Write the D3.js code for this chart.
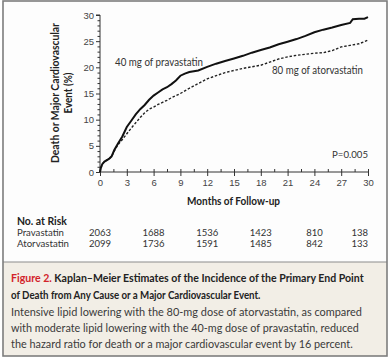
<!DOCTYPE html>
<html><head><meta charset="utf-8">
<script src="https://cdn.jsdelivr.net/npm/d3@7/dist/d3.min.js"></script>
<style>
html,body{margin:0;padding:0;background:#fff;}
svg{display:block;font-family:Lato,"Noto Sans",sans-serif;}
</style></head>
<body>
<svg id="c" width="391" height="360"></svg>
<script>
// ---- data ----
const pravMonths = [0,0.1,0.25,0.5,1.0,1.3,1.6,2.0,2.5,3.0,3.5,4.0,4.5,5.0,5.5,6.0,6.5,7.0,7.5,8.0,8.5,9.0,9.5,10,11,12,13,14,15,16,17,18,19,20,21,22,23,24,25,26,27,28,28.3,29,29.6,30];
const pravValues = [0,0.8,1.5,2.0,2.5,3.0,4.2,5.4,6.8,8.6,9.8,11.0,12.0,12.8,13.8,14.6,15.2,15.8,16.2,16.8,17.5,18.4,18.8,19.1,19.4,20.1,20.7,21.2,21.7,22.2,22.8,23.3,23.8,24.4,24.9,25.4,26.0,26.7,27.2,27.6,28.1,28.5,29.2,29.3,29.3,29.6];
const atorMonths = [0,0.1,0.25,0.5,1.0,1.3,1.6,2.0,2.5,3.0,3.5,4.0,4.5,5.0,5.5,6.0,6.5,7.0,7.5,8.0,8.5,9.0,9.5,10,11,12,13,14,15,16,17,18,19,20,21,22,23,24,25,26,27,28,29,30];
const atorValues = [0,0.8,1.5,2.0,2.5,3.0,4.0,5.2,6.2,7.3,8.4,9.4,10.4,11.3,12.0,12.4,12.9,13.3,13.7,14.2,14.6,15.0,15.5,16.0,16.9,17.8,18.4,19.0,19.4,19.8,20.1,20.4,21.0,21.6,22.0,22.3,22.5,22.7,22.8,23.2,23.9,24.2,24.5,25.2];
const xTicks = [0,3,6,9,12,15,18,21,24,27,30];
const yTicks = [0,5,10,15,20,25,30];
const riskMonths = [0,6,12,18,24,30];
const pravRisk = [2063,1688,1536,1423,810,138];
const atorRisk = [2099,1736,1591,1485,842,133];
const captionTitle = ["Kaplan–Meier Estimates of the Incidence of the Primary End Point","of Death from Any Cause or a Major Cardiovascular Event."];
const captionBody = ["Intensive lipid lowering with the 80-mg dose of atorvastatin, as compared","with moderate lipid lowering with the 40-mg dose of pravastatin, reduced","the hazard ratio for death or a major cardiovascular event by 16 percent."];

const svg = d3.select("#c");
// helper: text placed at (x,y), optionally squeezed horizontally to a target width
function addText(parent, x, y, str, o, target){
  const g = parent.append("g").attr("transform",`translate(${x},${y})`);
  const t = g.append("text").attr("x",0).attr("y",0)
    .attr("font-size",o.size||10).attr("fill",o.fill||"#333")
    .attr("font-weight",o.weight||"normal").attr("text-anchor",o.anchor||"start");
  if (typeof str === "string") t.text(str); else str(t);
  if (target){
    const len = t.node().getComputedTextLength();
    const k = target/len;
    g.attr("transform",`translate(${x},${y}) scale(${k},1)`);
  }
  return g;
}

// frame & backgrounds
svg.append("rect").attr("x",3).attr("y",1).attr("width",384).attr("height",261).attr("fill","#fdfdfd");
svg.append("rect").attr("x",3).attr("y",262).attr("width",384).attr("height",94).attr("fill","#f2eee6");
svg.append("line").attr("x1",3).attr("x2",387).attr("y1",262).attr("y2",262).attr("stroke","#8c8c8c").attr("stroke-width",1.2);
svg.append("rect").attr("x",3).attr("y",1).attr("width",384).attr("height",355).attr("fill","none").attr("stroke","#7d7d7d").attr("stroke-width",1.6);

const x = d3.scaleLinear().domain([0,30]).range([100,368]);
const y = d3.scaleLinear().domain([0,30]).range([172,15]);

// y axis
const yAxis = d3.axisLeft(y).tickValues(yTicks).tickSize(4).tickPadding(2);
const gy = svg.append("g").attr("transform","translate(100,0)").call(yAxis);
gy.select(".domain").attr("stroke","#333").attr("d","M-4,"+y(30)+"H0V"+y(0));
gy.selectAll(".tick line").attr("stroke","#333");
gy.selectAll("text").attr("font-size",9.5).attr("fill","#444");
const gym = svg.append("g").attr("transform","translate(100,0)").call(d3.axisLeft(y).tickValues(d3.range(0,31).filter(v=>v%5)).tickSize(2.5).tickFormat(""));
gym.select(".domain").remove(); gym.selectAll(".tick line").attr("stroke","#333");

// x axis
const xAxis = d3.axisBottom(x).tickValues(xTicks).tickSize(4).tickPadding(3);
const gx = svg.append("g").attr("transform","translate(0,172)").call(xAxis);
gx.select(".domain").attr("stroke","#333").attr("d","M"+x(0)+",0H"+x(30));
gx.selectAll(".tick line").attr("stroke","#333").attr("y1",-3);
gx.selectAll("text").attr("font-size",9.5).attr("fill","#444");
const gxm = svg.append("g").attr("transform","translate(0,172)").call(d3.axisTop(x).tickValues(d3.range(1.5,30,3)).tickSize(3).tickFormat(""));
gxm.select(".domain").remove(); gxm.selectAll(".tick line").attr("stroke","#333");

addText(svg, 233.5, 205, "Months of Follow-up", {size:10.5, weight:"bold", fill:"#222", anchor:"middle"}, 93);

// y label (rotated)
const ylg = svg.append("g").attr("transform","translate(59,93) rotate(-90)");
addText(ylg, 0, 0, "Death or Major Cardiovascular", {size:10.5, weight:"bold", fill:"#222", anchor:"middle"}, 140);
addText(ylg, 0, 13, "Event (%)", {size:10.5, weight:"bold", fill:"#222", anchor:"middle"}, 41);

// curves
const line = d3.line().x(d=>x(d[0])).y(d=>y(d[1])).curve(d3.curveLinear);
svg.append("path").datum(atorMonths.map((m,i)=>[m,atorValues[i]])).attr("d",line).attr("fill","none").attr("stroke","#222").attr("stroke-width",1.4).attr("stroke-dasharray","2.5,1.8");
svg.append("path").datum(pravMonths.map((m,i)=>[m,pravValues[i]])).attr("d",line).attr("fill","none").attr("stroke","#111").attr("stroke-width",2);

addText(svg, 115, 66, "40 mg of pravastatin", {size:10.5, fill:"#333"}, 88);
addText(svg, 272, 73.5, "80 mg of atorvastatin", {size:10.5, fill:"#333"}, 91);
addText(svg, 368, 157.5, "P=0.005", {size:9.5, fill:"#333", anchor:"end"}, 36);

// risk table
addText(svg, 17, 224.5, "No. at Risk", {size:10.5, weight:"bold", fill:"#222"}, 50);
const rows = [["Pravastatin",pravRisk,236,47],["Atorvastatin",atorRisk,246.5,52]];
rows.forEach(r=>{
  addText(svg, 17, r[2], r[0], {size:9.5, fill:"#333"}, r[3]);
  riskMonths.forEach((m,i)=>{
    addText(svg, x(m), r[2], String(r[1][i]), {size:9.5, fill:"#333", anchor: i===riskMonths.length-1?"end":"middle"});
  });
});

// caption
addText(svg, 11, 282, t=>{
  t.append("tspan").attr("fill","#d2232a").text("Figure 2. ");
  t.append("tspan").text(captionTitle[0]);
}, {size:11.5, weight:"bold", fill:"#222"}, 353);
addText(svg, 11, 298.5, captionTitle[1], {size:11.5, weight:"bold", fill:"#222"}, 250);
const bodyW = [351,348,342];
captionBody.forEach((s,i)=>{
  addText(svg, 11, 316+i*16, s, {size:11.5, fill:"#3a3a3a"}, bodyW[i]);
});
</script>
</body></html>
